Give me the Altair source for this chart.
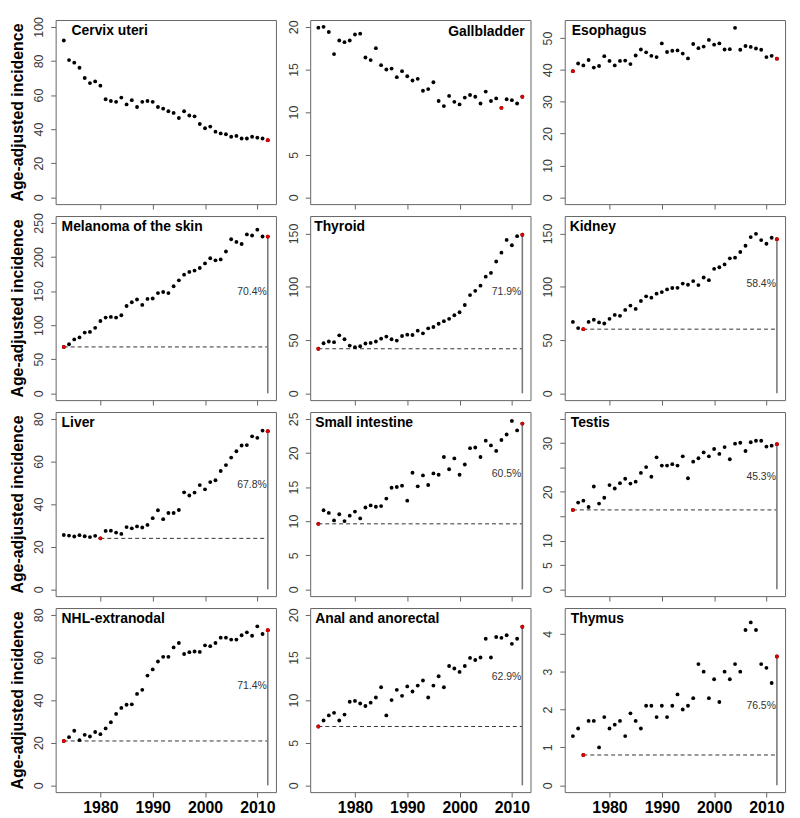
import altair as alt
import pandas as pd

years = list(range(1973, 2013))

names = ["Cervix uteri", "Gallbladder", "Esophagus",
         "Melanoma of the skin", "Thyroid", "Kidney",
         "Liver", "Small intestine", "Testis",
         "NHL-extranodal", "Anal and anorectal", "Thymus"]

cervix = [92, 80.5, 79, 76, 70, 67, 68, 65.5, 57.5, 56.5, 56, 58.5, 54.5, 57, 53, 56, 56.5, 56, 53, 52,
          50.5, 49.5, 46.5, 50.5, 48, 47.5, 43, 40.5, 41.5, 38.5, 37.5, 37, 35.5, 36, 34.5, 34.5, 35.5, 35, 34.5, 33.5]
gallbladder = [19.9, 20.0, 19.4, 16.8, 18.4, 18.2, 18.4, 19.1, 19.2, 16.4, 16.1, 17.5, 15.5, 15.0, 15.1, 14.1, 14.8, 14.2, 13.7, 13.9,
               12.5, 12.7, 13.5, 11.3, 10.7, 11.9, 11.2, 10.9, 11.7, 12.0, 11.8, 11.0, 12.4, 11.3, 11.6, 10.5, 11.5, 11.4, 11.0, 11.8]
esophagus = [39.6, 42, 41.4, 43.1, 40.7, 41.2, 44.3, 42.8, 41.4, 42.8, 42.9, 41.8, 44.5, 46.4, 45.5, 44.4, 44, 48.3, 45.6, 46,
             46.1, 45.1, 43.6, 48.1, 46.8, 47.3, 49.4, 47.9, 48.3, 46.4, 46.5, 53.2, 46.3, 47.5, 47.2, 46.7, 46.3, 44, 44.4, 43.5]
melanoma = [68, 72, 79, 82, 89, 90, 96, 106, 111, 112, 111, 114.5, 128, 133.5, 137.5, 129.6, 138.4, 139, 147, 148.6,
            147, 157, 165.7, 174, 178, 180, 183.7, 190.5, 198, 195, 196.4, 208, 226, 222, 219, 233, 231.5, 240, 230, 229.8]
thyroid = [41.8, 47, 48.6, 48, 54.4, 50.7, 44.8, 43.3, 44.2, 46.7, 47.3, 48.6, 51.3, 53.2, 50.7, 49.5, 53.8, 55, 54.7, 58.8,
           56.3, 61, 62.2, 65.3, 67.7, 69.9, 73.3, 76.1, 82.9, 92.2, 96.2, 101, 109.5, 113, 123.7, 132, 144, 139, 147.5, 148.8]
kidney = [67, 61.2, 60.2, 67, 69, 66.5, 65.5, 69.9, 73.6, 72.7, 78.3, 82.3, 79.2, 86.6, 91, 89.8, 93.5, 95, 97.5, 98.8,
          99, 103, 101.9, 105.3, 101.6, 108.7, 106.2, 116.8, 118.3, 121, 126.7, 127.3, 132.6, 138.5, 146.6, 149.7, 143.8, 140.4, 146, 144.7]
liver = [25.5, 25.2, 24.8, 25.4, 24.9, 24.5, 25.1, 23.9, 27.4, 27.5, 26.6, 26, 29.2, 28.6, 29.5, 29, 30.2, 33.4, 37.1, 32.9,
         35.8, 35.8, 37.2, 45.5, 44, 45.4, 48.9, 46.9, 50.3, 51.2, 55.5, 58.3, 61.8, 64.8, 67.5, 67.7, 71.8, 71.1, 74.5, 74.2]
small_intestine = [9.6, 11.6, 11.2, 10.1, 11, 10, 10.8, 11.4, 10.4, 12, 12.3, 12.1, 12.2, 13.3, 14.9, 15, 15.2, 13, 17.1, 15.1,
                   16.7, 15.3, 17, 16.8, 19.4, 17.6, 19.2, 16.8, 18.3, 20.7, 20.8, 19.4, 21.8, 21.1, 20.3, 21.9, 22.7, 24.7, 23.3, 24.3]
testis = [16.3, 17.8, 18.2, 16.9, 21.1, 17.6, 18.8, 21.4, 20.7, 21.8, 22.7, 21.7, 22.1, 23.9, 25.1, 23.1, 27.1, 25.4, 25.4, 25.7,
          25.4, 27.3, 22.8, 26.2, 26.9, 28.1, 27.3, 28.8, 27.8, 29.2, 26.7, 29.9, 30.1, 28.4, 30.2, 30.5, 30.5, 29.3, 29.5, 29.8]
nhl = [20.8, 22.6, 25.6, 21.2, 23.7, 22.9, 25, 24, 26.7, 29.6, 33.5, 36.3, 37.8, 38, 42.9, 44.8, 51.5, 54.4, 58.1, 60.3,
       60.3, 64.7, 66.8, 61.6, 62.5, 62.8, 62.6, 65.7, 65.3, 66.8, 69.3, 69.3, 68.4, 68.4, 70.4, 71.8, 70.2, 74.6, 71, 72.8]
anal = [6.9, 7.6, 8.2, 8.5, 7.6, 8.3, 9.8, 9.9, 9.6, 9.3, 9.7, 10.3, 11.5, 8.2, 10, 11.2, 10.5, 11.6, 11, 11.7,
        12.3, 10.3, 11.7, 12.8, 11.5, 14, 13.7, 13.3, 14, 14.95, 14.7, 15, 17.2, 15, 17.4, 17.3, 17.6, 16.6, 17.2, 18.6]
thymus = [1.3, 1.5, 0.8, 1.7, 1.7, 1.0, 1.8, 1.5, 1.6, 1.7, 1.3, 1.9, 1.7, 1.5, 2.1, 2.1, 1.8, 2.1, 1.8, 2.1,
          2.4, 2.0, 2.1, 2.3, 3.2, 3.0, 2.3, 2.8, 2.2, 3.0, 2.8, 3.2, 3.0, 4.1, 4.3, 4.1, 3.2, 3.1, 2.7, 3.4]

series = [cervix, gallbladder, esophagus, melanoma, thyroid, kidney,
          liver, small_intestine, testis, nhl, anal, thymus]

# axis upper limits and tick values
y_limits = [100, 20, 53.5, 250, 160, 160, 80, 25, 35, 80, 20, 4.5]
y_ticks = [[0, 20, 40, 60, 80, 100], [0, 5, 10, 15, 20], [0, 10, 20, 30, 40, 50],
           [0, 50, 100, 150, 200, 250], [0, 50, 100, 150], [0, 50, 100, 150],
           [0, 20, 40, 60, 80], [0, 5, 10, 15, 20, 25], [0, 5, 10, 15, 20, 25, 30, 35],
           [0, 20, 40, 60, 80], [0, 5, 10, 15, 20], [0, 1, 2, 3, 4]]
y_hidden_labels = [[], [], [], [], [], [], [], [], [15, 25, 35], [], [], []]
x_ticks = [1980, 1990, 2000, 2010]

# percentage of the last value gained since the minimum (None = no annotation)
pct_labels = [None, None, None, "70.4%", "71.9%", "58.4%", "67.8%", "60.5%", "45.3%", "71.4%", "62.9%", "76.5%"]

FONT = "Liberation Sans, Arial, Helvetica, sans-serif"
W, H = 222, 185.5
FRAME = "#666666"
title_dx = [16, None, 7, 6, 4, 5, 6, 5, 6, 6, 5, 6]

x_lo = years[0] - 0.04 * (years[-1] - years[0])
x_hi = years[-1] + 0.04 * (years[-1] - years[0])

panels = []
for i, (name, vals) in enumerate(zip(names, series)):
    row, col = divmod(i, 3)
    df = pd.DataFrame({"year": years, "value": vals})
    ymax = y_limits[i]
    xs = alt.Scale(domain=[x_lo, x_hi], nice=False, zero=False)
    ys = alt.Scale(domain=[-0.04 * ymax, 1.04 * ymax], nice=False, zero=False)

    if row == 3:
        xaxis = alt.Axis(values=x_ticks, format="d", labelFontSize=16, labelFontWeight="bold",
                         labelColor="black", labelPadding=3, labelFlush=False, labelOverlap=False)
    else:
        xaxis = alt.Axis(values=x_ticks, labels=False)

    hidden = y_hidden_labels[i]
    if hidden:
        cond = " || ".join(f"datum.value == {h}" for h in hidden)
        label_expr = f"({cond}) ? '' : datum.label"
    else:
        label_expr = "datum.label"

    yaxis_kwargs = dict(values=y_ticks[i], labelAngle=270, labelAlign="center", labelBaseline="bottom",
                        labelFontSize=12.5, labelColor="#3a3a3a", labelPadding=5, labelOverlap=False,
                        labelFlush=False, labelExpr=label_expr)
    if col == 0:
        yaxis = alt.Axis(title="Age-adjusted incidence", titleFontSize=16, titleFontWeight="bold",
                         titleColor="black", titlePadding=7, **yaxis_kwargs)
    else:
        yaxis = alt.Axis(title=None, **yaxis_kwargs)

    min_idx = int(pd.Series(vals).idxmin())
    last_idx = len(vals) - 1
    red_df = df.iloc[sorted(set([min_idx, last_idx]))]

    layers = []
    if pct_labels[i] is not None:
        dash_df = pd.DataFrame({"year": [years[min_idx]], "year_end": [years[last_idx]],
                                "value": [vals[min_idx]]})
        vert_df = pd.DataFrame({"year": [years[last_idx]], "value": [0], "value_end": [vals[last_idx]]})
        txt_df = pd.DataFrame({"year": [years[last_idx]],
                               "value": [(vals[min_idx] + vals[last_idx]) / 2],
                               "label": [pct_labels[i]]})
        dashed = alt.Chart(dash_df).mark_rule(color="#333333", strokeDash=[4, 3], strokeWidth=1).encode(
            x2="year_end:Q")
        vert = alt.Chart(vert_df).mark_rule(color="#7a7a7a", strokeWidth=1.6).encode(y2="value_end:Q")
        txt = alt.Chart(txt_df).mark_text(align="right", baseline="middle", dx=-1, fontSize=10.5,
                                          font=FONT, color="#333333").encode(text="label:N")
        layers += [dashed, vert, txt]

    pts = alt.Chart(df).mark_circle(size=15, color="black", opacity=1)
    red = alt.Chart(red_df).mark_circle(size=15, color="#e00000", opacity=1)
    layers += [pts, red]

    if title_dx[i] is None:
        ttl = alt.Chart(pd.DataFrame({"t": [name]})).mark_text(
            align="right", baseline="middle", fontSize=14, fontWeight="bold", font=FONT, color="black"
        ).encode(text="t:N", x=alt.value(W - 6), y=alt.value(12))
    else:
        ttl = alt.Chart(pd.DataFrame({"t": [name]})).mark_text(
            align="left", baseline="middle", fontSize=14, fontWeight="bold", font=FONT, color="black"
        ).encode(text="t:N", x=alt.value(title_dx[i]), y=alt.value(11.5))

    panel = alt.layer(*layers).encode(
        x=alt.X("year:Q", scale=xs, axis=xaxis, title=None),
        y=alt.Y("value:Q", scale=ys, axis=yaxis),
    )
    panel = alt.layer(panel, ttl).properties(width=W, height=H)
    panels.append(panel)

chart = alt.concat(
    *panels, columns=3, spacing={"row": 11.5, "column": 34.5}, bounds="flush",
    padding={"left": 1, "top": 4, "right": 6, "bottom": 2}, background="white",
).configure_view(
    stroke=FRAME, strokeWidth=1
).configure_axis(
    grid=False, domain=False, tickColor=FRAME, tickSize=5, tickWidth=1,
    labelFont=FONT, titleFont=FONT
)

chart.save("out.html", embed_options={"renderer": "svg", "actions": False})
